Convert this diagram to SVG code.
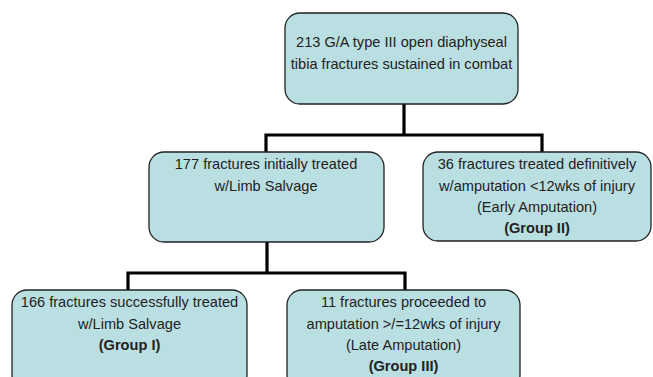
<svg xmlns="http://www.w3.org/2000/svg" width="653" height="377" viewBox="0 0 653 377">
<style>
.box{fill:#badfe2;stroke:#222;stroke-width:1.3}
.t{font-family:"Liberation Sans",Arial,sans-serif;font-size:14.6px;fill:#222;text-anchor:middle}
.b{font-weight:bold}
.c{fill:none;stroke:#000;stroke-width:3.2;stroke-linejoin:miter}
</style>
<rect width="653" height="377" fill="#fff"/>
<g id="connectors">
<polyline class="c" points="404,104 404,135"/>
<polyline class="c" points="266,152 266,135 542,135 542,152"/>
<polyline class="c" points="267,242 267,273"/>
<polyline class="c" points="128,290 128,273 405,273 405,290"/>
</g>
<g id="n0">
<rect class="box" x="285" y="13" width="233" height="91" rx="15"/>
<text class="t" x="401.5" y="47">213 G/A type III open diaphyseal</text>
<text class="t" x="401.5" y="69">tibia fractures sustained in combat</text>
</g>
<g id="n1">
<rect class="box" x="149" y="152" width="235" height="90" rx="15"/>
<text class="t" x="266" y="169">177 fractures initially treated</text>
<text class="t" x="266" y="191">w/Limb Salvage</text>
</g>
<g id="n2">
<rect class="box" x="423" y="152" width="228" height="89" rx="15"/>
<text class="t" x="537" y="169">36 fractures treated definitively</text>
<text class="t" x="537" y="191">w/amputation &lt;12wks of injury</text>
<text class="t" x="537" y="212">(Early Amputation)</text>
<text class="t b" x="537" y="233">(Group II)</text>
</g>
<g id="n3">
<rect class="box" x="12" y="290" width="235" height="100" rx="15"/>
<text class="t" x="129.5" y="307">166 fractures successfully treated</text>
<text class="t" x="129.5" y="329">w/Limb Salvage</text>
<text class="t b" x="129.5" y="350">(Group I)</text>
</g>
<g id="n4">
<rect class="box" x="287" y="290" width="233" height="100" rx="15"/>
<text class="t" x="403.5" y="307">11 fractures proceeded to</text>
<text class="t" x="403.5" y="329">amputation &gt;/=12wks of injury</text>
<text class="t" x="403.5" y="350">(Late Amputation)</text>
<text class="t b" x="403.5" y="371">(Group III)</text>
</g>
</svg>
